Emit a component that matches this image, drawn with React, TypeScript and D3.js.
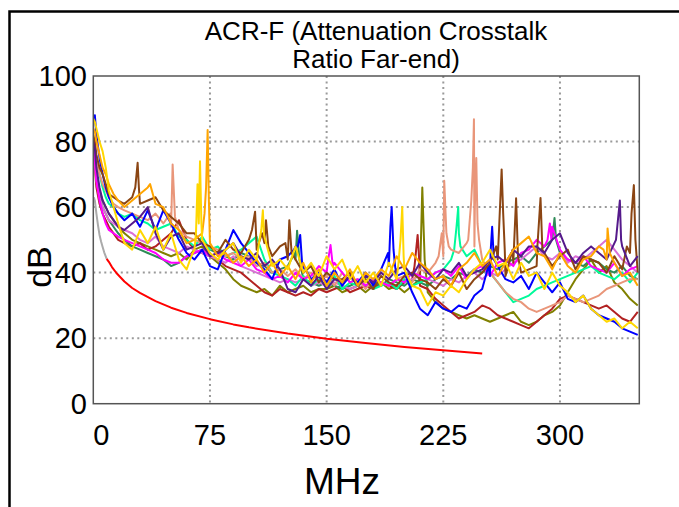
import React from 'react';
import * as d3 from 'd3';

// shared frequency grid (MHz)
const freqs = [0, 1, 2, 4, 6, 8, 10, 13, 16, 20, 25, 30, 35, 40, 45, 50, 55, 60, 65, 70, 75, 80, 85, 90, 95, 100, 105, 110, 115, 120, 125, 130, 135, 140, 145, 150, 155, 160, 165, 170, 175, 180, 185, 190, 195, 200, 205, 210, 215, 220, 225, 230, 235, 240, 245, 250, 255, 260, 265, 270, 275, 280, 285, 290, 295, 300, 305, 310, 315, 320, 325, 330, 335, 340, 345, 350];

const xTicks = [0, 75, 150, 225, 300];
const yTicks = [0, 20, 40, 60, 80, 100];

// dB values on the grid above, plus narrow peaks as [MHz, dB]
const blue = [86, 88, 82, 75, 70, 66, 63, 60, 58, 56, 58, 54, 59, 53, 59, 55, 50, 46, 44, 47, 42, 41, 47, 53, 49, 46, 43, 41, 38, 44, 45, 48, 42, 38, 40, 37, 41, 36, 39, 37, 40, 36, 41, 42, 39, 40, 34, 29, 27, 31, 29, 28, 30, 29, 33, 35, 39, 42, 38, 37, 39, 35, 40, 37, 34, 37, 32, 31, 33, 29, 27, 26, 25, 23, 22, 21];
const bluePeaks = [[129, 47], [131.5, 48], [133, 51.5], [134.5, 41], [189.5, 46], [191, 54], [191.8, 60], [193, 47], [194, 42], [254, 42], [255.5, 47], [256.4, 54], [257.5, 44]];

const gold = [87, 86, 84, 80, 77, 72, 65, 60, 55, 49, 47, 53, 49, 54, 47, 52, 44, 41, 47, 50, 46, 44, 47, 49, 43, 47, 44, 51, 42, 44, 41, 48, 40, 43, 39, 45, 41, 44, 38, 42, 37, 40, 36, 43, 38, 41, 36, 35, 30, 34, 33, 36, 34, 38, 41, 43, 47, 42, 43, 38, 43, 39, 40, 35, 40, 36, 34, 31, 33, 29, 27, 25, 26, 23, 25, 23];
const goldPeaks = [[63, 45], [66, 52], [67, 67], [67.8, 55], [68.6, 74], [69.5, 55], [106.5, 49], [108, 53], [109, 59], [109.7, 52], [196, 42], [197.5, 50], [198.6, 60], [199.5, 45]];

const orange = [84, 83, 80, 76, 72, 70, 67, 64, 62, 60, 62, 64, 66, 61, 60, 55, 53, 49, 50, 52, 49, 45, 46, 43, 45, 42, 44, 40, 43, 39, 42, 38, 43, 37, 41, 36, 40, 37, 41, 36, 40, 38, 41, 39, 45, 41, 46, 43, 41, 38, 39, 36, 41, 43, 46, 42, 44, 39, 43, 47, 49, 51, 46, 45, 41, 46, 42, 40, 44, 45, 48, 44, 43, 39, 40, 36];
const orangePeaks = [[36.5, 67], [71.5, 58], [72.5, 66], [73.5, 83.5], [74.3, 62], [328, 47], [330.6, 53.5], [332, 46]];

const brown = [82, 80, 76, 72, 70, 67, 64, 63, 62, 61, 63, 61, 62, 63, 59, 57, 55, 52, 52, 49, 48, 46, 50, 47, 46, 50, 47, 49, 45, 48, 44, 44, 40, 42, 37, 40, 38, 38, 40, 36, 38, 35, 39, 37, 36, 39, 40, 38, 37, 35, 38, 36, 40, 35, 38, 40, 43, 44, 39, 43, 40, 41, 42, 46, 42, 45, 47, 41, 45, 44, 43, 40, 45, 41, 46, 40];
const brownPeaks = [[27, 66], [28.5, 73.5], [29.3, 66], [102, 53], [104, 58.6], [104.8, 50], [108.5, 52], [111, 56], [112.5, 48], [123.5, 49], [126, 56], [127.5, 46], [259, 48], [261, 55], [262.5, 71.5], [263.5, 58], [264.5, 47], [269.5, 47], [271.8, 62.7], [273, 45], [285.5, 48], [287.5, 62.8], [288.7, 47], [343, 48], [346, 58], [347.5, 66.7], [348.5, 50]];

const salmon = [80, 78, 74, 70, 67, 65, 63, 61, 60, 59, 58, 57, 56, 58, 55, 54, 53, 51, 50, 49, 48, 47, 45, 46, 44, 45, 42, 43, 40, 41, 39, 41, 38, 40, 37, 39, 36, 40, 37, 38, 35, 38, 37, 36, 38, 39, 37, 41, 40, 43, 45, 47, 46, 49, 48, 44, 40, 37, 34, 32, 31, 29, 28, 29, 30, 31, 33, 32, 31, 32, 33, 35, 36, 37, 38, 38];
const salmonPeaks = [[49.5, 58], [51, 73], [52.5, 57], [222, 45], [224, 52], [225.6, 68], [227, 52], [228.5, 48], [241, 50], [243, 62], [244, 72], [244.7, 86.8], [245.3, 60], [246.2, 75], [247, 55], [248, 50]];

const purple = [80, 78, 72, 66, 62, 60, 58, 56, 54, 53, 55, 57, 60, 52, 47, 51, 52, 47, 48, 49, 45, 46, 47, 49, 45, 44, 46, 42, 44, 41, 35, 34, 38, 36, 39, 35, 38, 37, 39, 36, 39, 37, 40, 38, 41, 42, 39, 43, 40, 38, 41, 40, 43, 39, 40, 41, 44, 45, 43, 47, 45, 48, 48, 46, 50, 52, 46, 43, 46, 48, 46, 44, 49, 48, 42, 45];
const purplePeaks = [[336, 50], [338.5, 62], [339.3, 50]];

const magenta = [78, 74, 68, 62, 58, 55, 53, 52, 51, 50, 49, 48, 47, 46, 44, 43, 43, 45, 46, 47, 45, 46, 44, 43, 42, 44, 41, 40, 38, 39, 37, 40, 38, 39, 42, 40, 43, 40, 37, 38, 36, 38, 37, 36, 38, 37, 40, 39, 38, 40, 41, 39, 42, 38, 41, 42, 39, 43, 44, 42, 46, 47, 50, 48, 54, 47, 44, 43, 45, 42, 41, 40, 43, 39, 41, 42];
const magentaPeaks = [[151, 44], [152.5, 48.4], [154, 42], [292, 50], [293.5, 55], [294.5, 50]];

const spring = [80, 78, 74, 70, 66, 63, 61, 60, 58, 57, 58, 56, 55, 53, 54, 55, 51, 50, 48, 51, 47, 48, 45, 46, 47, 49, 51, 44, 40, 39, 38, 36, 39, 36, 38, 36, 39, 35, 37, 36, 38, 35, 36, 37, 35, 38, 36, 37, 38, 40, 41, 44, 52, 45, 47, 42, 40, 37, 34, 31, 32, 33, 35, 36, 37, 38, 39, 40, 41, 42, 40, 39, 38, 40, 37, 40];
const springPeaks = [[232, 47], [233.5, 54], [234.6, 60], [236, 48]];

const olive = [78, 75, 70, 65, 62, 60, 58, 56, 54, 52, 50, 49, 48, 47, 46, 45, 46, 44, 47, 48, 45, 43, 41, 38, 36, 35, 34, 35, 33, 36, 34, 35, 36, 34, 35, 35, 36, 34, 35, 36, 34, 36, 37, 35, 36, 34, 36, 38, 34, 31, 29, 28, 27, 26, 27, 26, 25, 26, 27, 28, 25, 24, 25, 27, 28, 30, 34, 38, 41, 44, 40, 42, 37, 35, 32, 30];
const olivePeaks = [[211.5, 66], [213, 44]];

const firebrick = [75, 72, 66, 61, 58, 56, 54, 52, 50, 49, 48, 49, 47, 48, 50, 52, 56, 50, 47, 46, 45, 44, 42, 41, 40, 38, 36, 34, 33, 35, 34, 33, 34, 33, 35, 34, 35, 36, 34, 35, 36, 35, 37, 36, 35, 37, 38, 36, 35, 32, 30, 28, 26, 27, 28, 30, 29, 27, 26, 25, 24, 23, 25, 27, 29, 32, 33, 32, 31, 30, 29, 30, 28, 26, 25, 28];
const firebrickPeaks = [[206.5, 42], [208.5, 51.5], [209.5, 44]];

const seagreen = [78, 76, 70, 64, 60, 58, 56, 54, 52, 50, 48, 47, 46, 45, 44, 42, 43, 45, 46, 47, 47, 46, 45, 44, 46, 45, 43, 42, 40, 41, 42, 44, 38, 37, 36, 37, 36, 35, 36, 37, 36, 37, 36, 38, 37, 36, 38, 37, 36, 38, 39, 38, 40, 39, 41, 40, 42, 41, 43, 44, 45, 43, 46, 48, 50, 46, 44, 43, 42, 44, 43, 41, 40, 42, 39, 38];
const seagreenPeaks = [[129.5, 46], [131, 52.8], [132.5, 44], [295.5, 52], [296.5, 56.7], [297.5, 50]];

const orchid = [75, 73, 68, 63, 60, 58, 56, 55, 54, 53, 52, 50, 49, 51, 48, 47, 46, 48, 47, 46, 45, 44, 43, 45, 42, 41, 40, 39, 38, 37, 38, 37, 38, 36, 37, 36, 37, 36, 35, 36, 37, 38, 37, 36, 38, 37, 38, 39, 38, 37, 36, 38, 37, 39, 40, 38, 40, 39, 41, 43, 44, 46, 48, 45, 44, 46, 43, 45, 44, 46, 48, 50, 47, 44, 42, 40];

// limit line: grey start then red
const limitGreyF = [0.3, 1, 2, 3, 4, 5, 6, 7, 8.6];
const limitGreyDb = [63, 62, 58, 54.5, 51.5, 49.5, 47.8, 46.2, 44.2];
const limitRedF = [8.6, 10, 12, 15, 20, 25, 30, 40, 50, 60, 75, 90, 100, 125, 150, 175, 200, 225, 250];
const limitRedDb = [44.2, 43.3, 41.7, 39.8, 37.3, 35.3, 33.8, 31.3, 29.3, 27.7, 25.8, 24.2, 23.3, 21.4, 19.8, 18.5, 17.3, 16.3, 15.3];

const series = [
  { name: 'olive', color: '#808000', values: olive, peaks: olivePeaks },
  { name: 'firebrick', color: '#b22222', values: firebrick, peaks: firebrickPeaks },
  { name: 'seagreen', color: '#2e8b57', values: seagreen, peaks: seagreenPeaks },
  { name: 'orchid', color: '#da70d6', values: orchid, peaks: [] as number[][] },
  { name: 'spring', color: '#00fa9a', values: spring, peaks: springPeaks },
  { name: 'salmon', color: '#e9967a', values: salmon, peaks: salmonPeaks },
  { name: 'magenta', color: '#ff00ff', values: magenta, peaks: magentaPeaks },
  { name: 'blue', color: '#0000ff', values: blue, peaks: bluePeaks },
  { name: 'brown', color: '#8b4513', values: brown, peaks: brownPeaks },
  { name: 'purple', color: '#551a8b', values: purple, peaks: purplePeaks },
  { name: 'orange', color: '#ffa500', values: orange, peaks: orangePeaks },
  { name: 'gold', color: '#ffd700', values: gold, peaks: goldPeaks },
];

const W = 679;
const H = 507;
const plot = { left: 93.3, right: 639.3, top: 76, bottom: 403.7 };
const FONT = '"Liberation Sans", Arial, sans-serif';

export default function App() {
  const x = d3.scaleLinear().domain([0, 351]).range([plot.left, plot.right]);
  const y = d3.scaleLinear().domain([0, 100]).range([plot.bottom, plot.top]);
  const line = d3.line<number[]>().x(d => x(d[0])).y(d => y(d[1]));

  const pts = (values: number[], peaks: number[][]) =>
    freqs.map((f, i) => [f, values[i]]).concat(peaks).sort((a, b) => a[0] - b[0]);

  return (
    <svg width={W} height={H} style={{ position: 'absolute', left: 0, top: 0, background: '#fff' }}>
      <defs>
        <clipPath id="plotClip">
          <rect x={plot.left} y={plot.top} width={plot.right - plot.left} height={plot.bottom - plot.top} />
        </clipPath>
      </defs>
      <rect x={9.5} y={11.5} width={720} height={540} fill="#fff" stroke="#000" strokeWidth={2.5} />

      <text x={376} y={40} textAnchor="middle" fontFamily={FONT} fontSize={26}>ACR-F (Attenuation Crosstalk</text>
      <text x={376} y={68} textAnchor="middle" fontFamily={FONT} fontSize={26}>Ratio Far-end)</text>

      {xTicks.filter(t => t > 0).map(t => (
        <line key={'gx' + t} x1={x(t)} x2={x(t)} y1={plot.top} y2={plot.bottom} stroke="#9a9a9a" strokeWidth={2} strokeDasharray="2 3.5" />
      ))}
      {yTicks.filter(t => t > 0 && t < 100).map(t => (
        <line key={'gy' + t} x1={plot.left} x2={plot.right} y1={y(t)} y2={y(t)} stroke="#9a9a9a" strokeWidth={2} strokeDasharray="2 3.5" />
      ))}

      <g clipPath="url(#plotClip)" fill="none" strokeWidth={2} strokeLinejoin="round">
        {series.map(s => (
          <path key={s.name} d={line(pts(s.values, s.peaks)) ?? ''} stroke={s.color} />
        ))}
        <path d={line(limitGreyF.map((f, i) => [f, limitGreyDb[i]])) ?? ''} stroke="#aaaaaa" />
        <path d={line(limitRedF.map((f, i) => [f, limitRedDb[i]])) ?? ''} stroke="#ff0000" />
      </g>

      <rect x={plot.left} y={plot.top} width={plot.right - plot.left} height={plot.bottom - plot.top} fill="none" stroke="#555" strokeWidth={1.5} />

      {yTicks.map(t => (
        <text key={'ty' + t} x={87} y={y(t) + 10} textAnchor="end" fontFamily={FONT} fontSize={29}>{t}</text>
      ))}
      {xTicks.map(t => (
        <text key={'tx' + t} x={x(t)} y={445} textAnchor={t === 0 ? 'start' : 'middle'} fontFamily={FONT} fontSize={29}>{t}</text>
      ))}

      <text x={342} y={494} textAnchor="middle" fontFamily={FONT} fontSize={37}>MHz</text>
      <text transform="translate(51,267) rotate(-90)" textAnchor="middle" fontFamily={FONT} fontSize={34}>dB</text>
    </svg>
  );
}
